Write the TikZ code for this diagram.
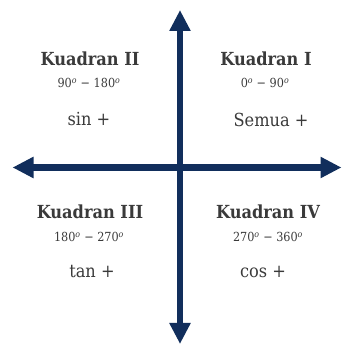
\documentclass[tikz,border=0pt]{standalone}
\usepackage{fontspec}
\setmainfont{DejaVu Serif Condensed}
\usetikzlibrary{arrows.meta}
\definecolor{axisblue}{HTML}{112E5C}
\definecolor{txt}{HTML}{3A3A3A}
\newcommand{\dg}{\textsuperscript{\itshape o}}
\begin{document}
\begin{tikzpicture}[x=1pt,y=1pt,
  axisline/.style={line width=6.5pt, draw=axisblue, -{Triangle[width=20pt,length=21pt]}},
  quadtitle/.style={font=\bfseries\fontsize{18}{20}\selectfont, text=txt, inner sep=0pt},
  quadrange/.style={font=\fontsize{12.5}{14}\selectfont, text=txt, inner sep=0pt},
  quadsign/.style={font=\fontsize{18}{20}\selectfont, text=txt, inner sep=0pt}]
\useasboundingbox (0,0) rectangle (342,345);
% axes
\coordinate (o) at (180,177.5);
\coordinate (top) at (180,335);
\coordinate (bottom) at (180,1);
\coordinate (left) at (12.5,177.5);
\coordinate (right) at (341.5,177.5);
\draw[axisline] (o) -- (top);
\draw[axisline] (o) -- (bottom);
\draw[axisline] (o) -- (left);
\draw[axisline] (o) -- (right);
% quadrant II
\node[quadtitle] (q2) at (90,286) {Kuadran II};
\node[quadrange] (r2) at (89,262) {90\dg{} − 180\dg};
\node[quadsign]  (s2) at (89,226) {sin +};
% quadrant I
\node[quadtitle] (q1) at (266,286) {Kuadran I};
\node[quadrange] (r1) at (265,262) {0\dg{} − 90\dg};
\node[quadsign]  (s1) at (271,225) {Semua +};
% quadrant III
\node[quadtitle] (q3) at (90,133) {Kuadran III};
\node[quadrange] (r3) at (89,108) {180\dg{} − 270\dg};
\node[quadsign]  (s3) at (92,73) {tan +};
% quadrant IV
\node[quadtitle] (q4) at (268,133) {Kuadran IV};
\node[quadrange] (r4) at (268,108) {270\dg{} − 360\dg};
\node[quadsign]  (s4) at (263,73) {cos +};
\end{tikzpicture}
\end{document}
